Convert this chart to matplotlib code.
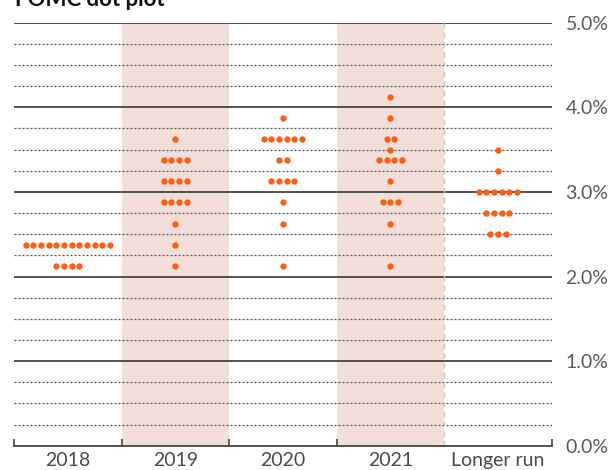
"""FOMC dot plot: projected federal funds rate by year."""
import matplotlib
matplotlib.use("Agg")
import matplotlib.pyplot as plt
import numpy as np

plt.rcParams["font.family"] = ["Lato", "DejaVu Sans"]

columns = ["2018", "2019", "2020", "2021", "Longer run"]
shaded = [False, True, False, True, False]

# each participant's projection (%), one entry per dot
dots_2018 = [2.375] * 12 + [2.125] * 4
dots_2019 = [3.625] + [3.375] * 4 + [3.125] * 4 + [2.875] * 4 + [2.625, 2.375, 2.125]
dots_2020 = [3.875] + [3.625] * 6 + [3.375] * 2 + [3.125] * 4 + [2.875, 2.625, 2.125]
dots_2021 = [4.125, 3.875] + [3.625] * 2 + [3.5] + [3.375] * 4 + [3.125] + [2.875] * 3 + [2.625, 2.125]
dots_longer = [3.5, 3.25] + [3.0] * 6 + [2.75] * 4 + [2.5] * 3
all_dots = [dots_2018, dots_2019, dots_2020, dots_2021, dots_longer]

y_ticks = [0, 1, 2, 3, 4, 5]
y_labels = ["0.0%", "1.0%", "2.0%", "3.0%", "4.0%", "5.0%"]

DOT = "#ff5c14"
SHADE = "#f3dfd9"
GRID = "#555555"

W, H = 611, 470
fig = plt.figure(figsize=(W / 100, H / 100), dpi=100)
ax = fig.add_axes([14 / W, 1 - 445.7 / H, (551.7 - 14) / W, (445.7 - 22.7) / H])
ax.set_xlim(0, len(columns))
ax.set_ylim(0, 5)

for i, s in enumerate(shaded):
    if s:
        ax.axvspan(i, i + 1, color=SHADE, lw=0, zorder=0)

for lvl in np.arange(0.25, 5.0, 0.25):
    if lvl % 1 == 0:
        ax.axhline(lvl, color="#444444", lw=1.3, zorder=1)
    else:
        ax.axhline(lvl, color=GRID, lw=0.9, dashes=(1.6, 1.6), zorder=1)
ax.axhline(5.0, color="#444444", lw=1.3, zorder=1)
ax.axvline(4, color="#c8c8c8", lw=1.0, dashes=(4, 3), zorder=1)

step = 0.0713
for i, vals in enumerate(all_dots):
    levels, counts = np.unique(vals, return_counts=True)
    for lvl, n in zip(levels, counts):
        xs = i + 0.5 + (np.arange(n) - (n - 1) / 2) * step
        ax.scatter(xs, [lvl] * n, s=21, color=DOT, lw=0, zorder=3)

for sp in ["top", "left", "right"]:
    ax.spines[sp].set_visible(False)
ax.spines["bottom"].set_color("#444444")
ax.spines["bottom"].set_linewidth(1.3)

ax.set_xticks([0, 1, 2, 3, 5])
ax.set_xticklabels([])
ax.tick_params(axis="x", which="major", direction="in", length=5,
               width=1.2, color="#444444")
ax.set_xticks(np.arange(len(columns)) + 0.5, minor=True)
ax.set_xticklabels(columns, minor=True)
ax.tick_params(axis="x", which="minor", length=0, pad=4.5,
               labelsize=14, labelcolor="#4a4a4a")

ax.yaxis.tick_right()
ax.set_yticks(y_ticks)
ax.set_yticklabels(y_labels)
ax.tick_params(axis="y", length=0, pad=10, labelsize=14, labelcolor="#595959")

fig.text(15 / W, 1 - 6.5 / H, "FOMC dot plot", fontsize=16, weight="bold",
         ha="left", va="baseline", color="#111111")

fig.savefig("out.png", dpi=100)
